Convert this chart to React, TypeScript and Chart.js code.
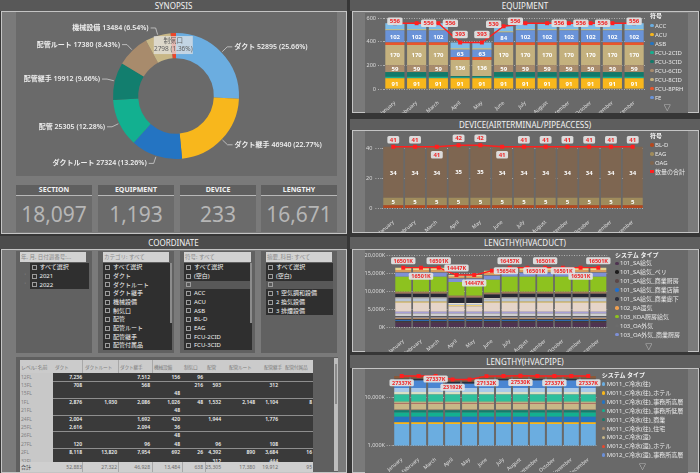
import React, { useEffect, useRef } from "react";
import { Chart, registerables } from "chart.js";

Chart.register(...registerables);

const FONT = '"Segoe UI", "Noto Sans", "Noto Sans CJK JP", sans-serif';
Chart.defaults.font.family = FONT;

// ================= DATA =================
const months = ["January","February","March","April","May","June","July","August","September","October","November","December"];

// SYNOPSIS
const synopsisCategories = ["ダクト","ダクト継手","ダクトルート","配管","配管継手","配管ルート","機械設備","制気口"];
const synopsisValues = [52895, 46940, 27324, 25305, 19912, 17380, 13484, 2798];
const synopsisPercents = ["25.66%","22.77%","13.26%","12.28%","9.66%","8.43%","6.54%","1.36%"];

// KPI cards
const kpiTitles = ["SECTION","EQUIPMENT","DEVICE","LENGTHY"];
const kpiValues = ["18,097","1,193","233","16,671"];

// EQUIPMENT
const equipNames = ["ACC","ACU","ASB","FCU-2CID","FCU-3CID","FCU-6CID","FCU-8CID","FCU-8PRH","FE","",""];
const equipACC = [0,0,0,0,0,0,0,0,0,0,0,0];
const equipACU = [91,91,91,91,91,91,91,91,91,91,91,91];
const equipASB = [0,0,0,0,0,0,0,0,0,0,0,0];
const equipFCU2CID = [12,12,12,8,8,12,12,12,12,12,12,12];
const equipFCU3CID = [40,40,40,10,10,40,40,40,40,40,40,40];
const equipFCU6CID = [59,59,59,0,0,59,59,59,59,59,59,59];
const equipFCU8CID = [170,170,170,136,136,170,170,170,170,170,170,170];
const equipFCU8PRH = [22,22,22,25,25,22,22,22,22,22,22,22];
const equipFE = [102,102,102,63,63,84,102,102,102,102,102,102];
const equipOtherA = [8,8,8,10,10,8,8,8,8,8,8,8];
const equipOtherB = [52,52,52,50,50,44,52,52,52,52,52,52];
const equipTotal = [556,556,556,393,393,530,556,556,556,556,556,556];

// DEVICE
const deviceNames = ["BL-D","EAG","OAG"];
const deviceBLD = [2,2,2,2,2,2,2,2,2,2,2,2];
const deviceEAG = [5,5,5,5,5,5,5,5,5,5,5,5];
const deviceOAG = [34,34,34,35,35,34,34,34,34,34,34,34];
const deviceTotal = [41,41,41,42,42,41,41,41,41,41,41,41];

// LENGTHY (HVACDUCT), values in K
const ductNames = ["101_SA給気","101_SA給気_ペリ","101_SA給気_商業厨房","101_SA給気_商業店舗","101_SA給気_商業廊下","102_RA還気","","","","","","","","","","","103_KOA厨房給気","103_OA外気_商業厨房","103_OA外気","",""];
const duct01 = [1350,1350,1350,1350,1350,1350,1350,1350,1350,1350,1350,1350];
const duct02 = [250,250,250,250,250,250,250,250,250,250,250,250];
const duct03 = [150,150,150,150,150,150,150,150,150,150,150,150];
const duct04 = [200,200,200,200,200,200,200,200,200,200,200,200];
const duct05 = [300,300,300,300,300,300,300,300,300,300,300,300];
const duct06 = [200,200,200,200,200,200,200,200,200,200,200,200];
const duct07 = [500,500,500,500,500,500,500,500,500,500,500,500];
const duct08 = [200,200,200,200,200,200,200,200,200,200,200,200];
const duct09 = [700,700,700,700,700,700,700,700,700,700,700,700];
const duct10 = [450,450,450,450,450,450,450,450,450,450,450,450];
const duct11 = [2500,2500,2500,1500,1500,2500,2500,2500,2500,2500,2500,2500];
const duct12 = [350,350,350,350,350,350,350,350,350,350,350,350];
const duct13 = [800,800,800,300,300,553,800,800,800,800,800,800];
const duct14 = [300,300,300,300,300,300,300,300,300,300,300,300];
const duct15 = [1050,1050,1050,1450,1450,1050,1050,1050,1050,1050,1050,1050];
const duct16 = [500,500,500,500,500,500,500,500,500,500,500,500];
const duct17 = [4200,4200,4200,3800,3800,3600,4200,4200,4200,4200,4200,4200];
const duct18 = [1100,1100,1100,900,900,1100,1100,1100,1100,1100,1100,1100];
const duct19 = [150,150,150,150,150,150,150,150,150,150,150,150];
const duct20 = [600,600,600,446,446,600,600,600,600,600,600,600];
const duct21 = [651,651,651,451,451,651,607,651,651,651,651,651];
const ductTotal = [16501,16501,16501,14447,14447,15654,16457,16501,16501,16501,16501,16501];

// LENGTHY (HVACPIPE), values in K
const pipeNames = ["M011_C冷水(往)","M011_C冷水(往)_ホテル","M011_C冷水(往)_事務所高層","M011_C冷水(往)_事務所低層","M011_C冷水(往)_商業","M011_C冷水(往)_住宅","M012_C冷水(還)","M012_C冷水(還)_ホテル","M012_C冷水(還)_事務所高層","","","","","","",""];
const pipe01 = [2800,2800,2800,2800,2800,2800,2800,2800,2800,2800,2800,2800];
const pipe02 = [250,250,250,250,250,250,250,250,250,250,250,250];
const pipe03 = [900,900,900,900,900,900,900,900,900,900,900,900];
const pipe04 = [900,900,900,900,900,900,900,900,900,900,900,900];
const pipe05 = [500,500,500,500,500,500,500,500,500,500,500,500];
const pipe06 = [200,200,200,200,200,200,200,200,200,200,200,200];
const pipe07 = [1800,1800,1800,1800,1800,1800,1800,1800,1800,1800,1800,1800];
const pipe08 = [150,150,150,150,150,150,150,150,150,150,150,150];
const pipe09 = [200,200,200,200,200,200,200,200,200,200,200,200];
const pipe10 = [300,300,300,300,300,300,300,300,300,300,300,300];
const pipe11 = [3300,3300,3300,3300,3300,3300,3300,3300,3300,3300,3300,3300];
const pipe12 = [1500,1500,1500,1500,1500,1500,1500,1500,1500,1500,1500,1500];
const pipe13 = [2600,2600,2600,2600,2600,2600,2600,2600,2600,2600,2600,2600];
const pipe14 = [6600,6600,6600,3455,3455,6600,6600,6600,6600,6600,6600,6600];
const pipe15 = [2000,2000,2000,2000,2000,2000,2000,2000,2000,2000,2000,2000];
const pipe16 = [3337,3337,3337,2337,2337,3132,3337,3530,3337,3337,3337,3337];
const pipeTotal = [27337,27337,27337,23192,23192,27132,27337,27530,27337,27337,27337,27337];

// COORDINATE slicers
const slicerHeaders = ["年, 月, 日付週番号:...","カテゴリ: すべて","符号: すべて","摘要_科目: すべて"];
const slicerYears = ["すべて選択","2021","2022"];
const slicerCategories = ["すべて選択","ダクト","ダクトルート","ダクト継手","機械設備","制気口","配管","配管ルート","配管継手","配管付属品"];
const slicerCodes = ["すべて選択","(空白)","","ACC","ACU","ASB","BL-D","EAG","FCU-2CID","FCU-3CID"];
const slicerSubjects = ["すべて選択","(空白)","","1 空気調和設備","2 換気設備","3 排煙設備"];

// COORDINATE matrix
const tableColumns = ["ダクト","ダクトルート","ダクト継手","機械設備","制気口","配管","配管ルート","配管継手","配管付属品"];
const tableRowLabels = ["12FL","13FL","15FL","1FL","21FL","24FL","25FL","26FL","27FL","2FL","32FL"];
const tableRows = [
  ["7,236","","7,512","156","96","","","",""],
  ["708","","568","","216","593","","312",""],
  ["","","","48","","","","",""],
  ["2,876","1,930","2,086","1,026","48","1,532","2,148","1,104","8"],
  ["","","","48","","","","",""],
  ["2,004","","1,692","420","","1,944","","1,776",""],
  ["2,616","","2,094","36","","","","",""],
  ["","","","48","","","","",""],
  ["120","","96","48","","96","","108",""],
  ["8,118","13,820","7,954","692","26","4,392","890","3,684","16"],
  ["","","","","","312","","444",""],
];
const tableTotals = ["52,883","27,322","46,928","13,484","638","25,305","17,380","19,912","95"];

// ================= STYLES =================
const synopsisColors = ["#6BADE0","#F8B71C","#2474C2","#12B090","#127E6E","#A88B6C","#C8B787","#E9472B"];
const equipColors = ["#6BADE0","#F8B71C","#2474C2","#16B08F","#127A6A","#A88B6C","#C4B17E","#E9552B","#6A93D8","#EEE08A","#7DBDE8"];
const equipLabelled = [false,true,false,false,false,true,true,false,true,false,false];
const deviceColors = ["#B4481E","#A08C5C","#7E6651"];
const deviceLabelled = [false,true,true];
const ductColors = ["#4E3350","#1C1C1C","#5C4848","#1F6FCF","#2C2F3B","#F0A050","#8A8A92","#3A3A44","#D0D0D0","#A79FD6","#E5D5C9","#EFCF72","#B9C5D6","#E9E1D2","#262833","#A0765A","#8DC21F","#7E90D6","#6B6B6B","#D89C5C","#E7D68E"];
const ductLegendOrder = [0,1,2,3,4,5,16,18,17];
const pipeColors = ["#6BADE0","#F8B71C","#2474C2","#12B090","#127E6E","#A88B6C","#C8B787","#E9472B","#6B8FD8","#F3D66E","#2EBF9C","#D9DFC4","#A9C9E8","#4A86D2","#27303F","#8A5A3A"];
const pipeLegendOrder = [0,1,2,3,4,5,6,7,8];
const RED = "#FF1F1F";
const GRID = "rgba(210,210,210,0.85)";

const equipLabelOffsets: ([number, number] | null)[] = [[0,-2],[12,0],[12,0],[0,-8],[0,-8],[-10,-2],[-10,-2],[12,0],[12,0],[12,0],null,[0,-2]];
const deviceLabelOffsets: ([number, number] | null)[] = [[0,-7],[0,-7],[0,8],[0,-7],[0,-7],[0,8],[0,-7],[0,-7],[0,-7],[0,-7],[0,-7],[0,-7]];
const ductLabelOffsets: ([number, number] | null)[] = [[0,-7],[0,8.5],[0,-7],[0,-7],[0,8],[14,0],[0,-7],[8,3],[0,-7],[0,3],[0,8.5],[0,-7]];
const pipeLabelOffsets: ([number, number] | null)[] = [[0,6.8],null,[0,3],[0,7.8],null,[0,6.7],null,[0,6.7],null,[0,6.7],null,[0,6.7]];

// ================= PLUGINS =================
const segLabelPlugin = {
  id: "segLabels",
  afterDatasetsDraw(chart: any) {
    const ctx = chart.ctx;
    ctx.save();
    ctx.font = `bold 6px ${FONT}`;
    ctx.fillStyle = "#ffffff";
    ctx.textAlign = "center";
    ctx.textBaseline = "middle";
    chart.data.datasets.forEach((ds: any, i: number) => {
      if (!ds.showLabel) return;
      const meta = chart.getDatasetMeta(i);
      meta.data.forEach((el: any, j: number) => {
        const v = ds.data[j];
        if (!v) return;
        ctx.fillText(String(v), el.x, (el.y + el.base) / 2 + 0.5);
      });
    });
    ctx.restore();
  },
};

function makeTotalLabelPlugin(offsets: ([number, number] | null)[], fmt: (v: number) => string, size: number) {
  return {
    id: "totalLabels",
    afterDatasetsDraw(chart: any) {
      const ctx = chart.ctx;
      const idx = chart.data.datasets.findIndex((d: any) => d.type === "line");
      if (idx < 0) return;
      const ds = chart.data.datasets[idx];
      const meta = chart.getDatasetMeta(idx);
      ctx.save();
      ctx.font = `bold ${size}px ${FONT}`;
      ctx.textAlign = "center";
      ctx.textBaseline = "middle";
      meta.data.forEach((pt: any, j: number) => {
        const off = offsets[j];
        if (!off) return;
        const text = fmt(ds.data[j]);
        const w = ctx.measureText(text).width + 5;
        const h = size + 1.5;
        const cx = pt.x + off[0];
        const cy = pt.y + off[1];
        ctx.fillStyle = "rgba(224,224,224,0.96)";
        ctx.beginPath();
        ctx.roundRect(cx - w / 2, cy - h / 2, w, h, 1.5);
        ctx.fill();
        ctx.fillStyle = "#F02828";
        ctx.fillText(text, cx, cy + 0.3);
      });
      ctx.restore();
    },
  };
}

const donutLabelPlugin = {
  id: "donutLabels",
  afterDatasetsDraw(chart: any) {
    const ctx = chart.ctx;
    const meta = chart.getDatasetMeta(0);
    ctx.save();
    meta.data.forEach((arc: any, i: number) => {
      const { x, y, startAngle, endAngle, outerRadius } = arc.getProps(["x", "y", "startAngle", "endAngle", "outerRadius"], true);
      const mid = (startAngle + endAngle) / 2;
      const cos = Math.cos(mid);
      const sin = Math.sin(mid);
      if (i === synopsisValues.length - 1) {
        // hover tooltip on the smallest slice
        const bx = x + cos * outerRadius;
        const by = y + sin * outerRadius + 3;
        const w = 39, h = 18;
        ctx.fillStyle = "rgba(228,228,228,0.72)";
        ctx.fillRect(bx - w / 2, by, w, h);
        ctx.fillStyle = "#5e5e5e";
        ctx.font = `6.5px ${FONT}`;
        ctx.textAlign = "center";
        ctx.textBaseline = "middle";
        ctx.fillText(synopsisCategories[i], bx, by + 5.3);
        ctx.fillText(`${synopsisValues[i]} (${synopsisPercents[i]})`, bx, by + 13.3);
        return;
      }
      const x1 = x + cos * (outerRadius + 1);
      const y1 = y + sin * (outerRadius + 1);
      const x2 = x + cos * (outerRadius + 8);
      const y2 = y + sin * (outerRadius + 8);
      const right = cos >= 0;
      const x3 = x2 + (right ? 5 : -5);
      ctx.strokeStyle = "#cfcfcf";
      ctx.lineWidth = 0.8;
      ctx.beginPath();
      ctx.moveTo(x1, y1);
      ctx.lineTo(x2, y2);
      ctx.lineTo(x3, y2);
      ctx.stroke();
      ctx.fillStyle = "#EDEDED";
      ctx.font = `600 7px ${FONT}`;
      ctx.textAlign = right ? "left" : "right";
      ctx.textBaseline = "middle";
      ctx.fillText(`${synopsisCategories[i]} ${synopsisValues[i]} (${synopsisPercents[i]})`, x3 + (right ? 2 : -2), y2);
    });
    ctx.restore();
  },
};

// ================= CONFIGS =================
function makeDonut() {
  return {
    type: "doughnut",
    data: {
      labels: synopsisCategories,
      datasets: [{ data: synopsisValues, backgroundColor: synopsisColors, borderWidth: 0 }],
    },
    options: {
      responsive: false,
      animation: false,
      devicePixelRatio: 1,
      cutout: "60%",
      layout: { padding: { left: 97, right: 98, top: 21, bottom: 17 } },
      plugins: { legend: { display: false }, tooltip: { enabled: false } },
    },
    plugins: [donutLabelPlugin],
  };
}

type BarParams = {
  names: string[];
  series: number[][];
  colors: string[];
  labelled?: boolean[];
  totals: number[];
  yType: "linear" | "logarithmic";
  yMin: number;
  yMax: number;
  yTicks: number[];
  fmtTick: (v: number) => string;
  yWidth: number;
  tickLen: number;
  tickPad: number;
  xHeight: number;
  padTop: number;
  padRight: number;
  barPct: number;
  offsets: ([number, number] | null)[];
  fmtTotal: (v: number) => string;
  boxFont: number;
};

function makeBarConfig(p: BarParams) {
  return {
    type: "bar",
    data: {
      labels: months,
      datasets: [
        {
          type: "line",
          label: "total",
          data: p.totals,
          borderColor: RED,
          borderWidth: 1.4,
          pointStyle: "rect",
          pointRadius: 2.8,
          pointBackgroundColor: RED,
          pointBorderWidth: 0,
          stack: "total",
          order: 0,
          tension: 0,
        },
        ...p.series.map((d, i) => ({
          type: "bar",
          label: p.names[i],
          data: d,
          backgroundColor: p.colors[i],
          borderWidth: 0,
          barPercentage: p.barPct,
          categoryPercentage: 1,
          stack: "bars",
          order: 1,
          showLabel: p.labelled ? p.labelled[i] : false,
        })),
      ],
    },
    options: {
      responsive: false,
      animation: false,
      devicePixelRatio: 1,
      layout: { padding: { top: p.padTop, right: p.padRight, left: 0, bottom: 0 } },
      plugins: { legend: { display: false }, tooltip: { enabled: false } },
      scales: {
        x: {
          stacked: true,
          grid: { display: false },
          border: { display: false },
          ticks: { color: "#E2E2E2", font: { size: 5 }, maxRotation: 40, minRotation: 40, autoSkip: false, padding: 3 },
          afterFit: (s: any) => {
            s.height = p.xHeight;
            s.paddingLeft = 0;
            s.paddingRight = 0;
          },
        },
        y: {
          type: p.yType,
          stacked: true,
          min: p.yMin,
          max: p.yMax,
          afterBuildTicks: (axis: any) => {
            axis.ticks = p.yTicks.map((v) => ({ value: v }));
          },
          ticks: { color: "#DCDCDC", font: { size: 5.5 }, padding: p.tickPad, callback: (v: any) => p.fmtTick(Number(v)) },
          grid: { color: GRID, lineWidth: 0.8, tickLength: p.tickLen, tickColor: GRID, tickWidth: 0.8, tickBorderDash: [1, 1.5] },
          border: { display: false, dash: [1, 1.5] },
          afterFit: (s: any) => {
            s.width = p.yWidth;
            s.paddingTop = 0;
            s.paddingBottom = 0;
          },
        },
      },
    },
    plugins: [segLabelPlugin, makeTotalLabelPlugin(p.offsets, p.fmtTotal, p.boxFont)],
  };
}

const fmtThousands = (v: number) => v.toLocaleString("en-US");
const fmtK = (v: number) => `${v.toLocaleString("en-US")}K`;

const makeEquip = () =>
  makeBarConfig({
    names: equipNames,
    series: [equipACC, equipACU, equipASB, equipFCU2CID, equipFCU3CID, equipFCU6CID, equipFCU8CID, equipFCU8PRH, equipFE, equipOtherA, equipOtherB],
    colors: equipColors,
    labelled: equipLabelled,
    totals: equipTotal,
    yType: "linear",
    yMin: 0,
    yMax: 600,
    yTicks: [0, 200, 400, 600],
    fmtTick: fmtThousands,
    yWidth: 19,
    tickLen: 6,
    tickPad: 2,
    xHeight: 24,
    padTop: 5,
    padRight: 43,
    barPct: 0.88,
    offsets: equipLabelOffsets,
    fmtTotal: (v) => String(v),
    boxFont: 6,
  });

const makeDevice = () =>
  makeBarConfig({
    names: deviceNames,
    series: [deviceBLD, deviceEAG, deviceOAG],
    colors: deviceColors,
    labelled: deviceLabelled,
    totals: deviceTotal,
    yType: "linear",
    yMin: 0,
    yMax: 48,
    yTicks: [0, 20, 40],
    fmtTick: fmtThousands,
    yWidth: 17.4,
    tickLen: 7,
    tickPad: 3,
    xHeight: 23.7,
    padTop: 5.3,
    padRight: 41.4,
    barPct: 0.92,
    offsets: deviceLabelOffsets,
    fmtTotal: (v) => String(v),
    boxFont: 6,
  });

const makeDuct = () =>
  makeBarConfig({
    names: ductNames,
    series: [duct01, duct02, duct03, duct04, duct05, duct06, duct07, duct08, duct09, duct10, duct11, duct12, duct13, duct14, duct15, duct16, duct17, duct18, duct19, duct20, duct21],
    colors: ductColors,
    totals: ductTotal,
    yType: "linear",
    yMin: 0,
    yMax: 20000,
    yTicks: [0, 5000, 10000, 15000, 20000],
    fmtTick: fmtK,
    yWidth: 29.4,
    tickLen: 7.7,
    tickPad: 1.5,
    xHeight: 24.7,
    padTop: 5,
    padRight: 80.8,
    barPct: 0.9,
    offsets: ductLabelOffsets,
    fmtTotal: (v) => `${v}K`,
    boxFont: 5.5,
  });

const makePipe = () =>
  makeBarConfig({
    names: pipeNames,
    series: [pipe01, pipe02, pipe03, pipe04, pipe05, pipe06, pipe07, pipe08, pipe09, pipe10, pipe11, pipe12, pipe13, pipe14, pipe15, pipe16],
    colors: pipeColors,
    totals: pipeTotal,
    yType: "logarithmic",
    yMin: 1000,
    yMax: 33000,
    yTicks: [1000, 10000],
    fmtTick: fmtK,
    yWidth: 28.2,
    tickLen: 6.5,
    tickPad: 1.7,
    xHeight: 26.3,
    padTop: 2.2,
    padRight: 91.2,
    barPct: 0.88,
    offsets: pipeLabelOffsets,
    fmtTotal: (v) => `${v}K`,
    boxFont: 5.5,
  });

// ================= COMPONENTS =================
const abs = (l: number, t: number, w: number, h: number, extra: React.CSSProperties = {}): React.CSSProperties => ({
  position: "absolute",
  left: l,
  top: t,
  width: w,
  height: h,
  boxSizing: "border-box",
  ...extra,
});

function ChartCanvas({ make, left, top, width, height }: { make: () => any; left: number; top: number; width: number; height: number }) {
  const ref = useRef<HTMLCanvasElement>(null);
  useEffect(() => {
    const chart = new Chart(ref.current as HTMLCanvasElement, make());
    return () => chart.destroy();
  }, []);
  return <canvas ref={ref} width={width} height={height} style={{ position: "absolute", left, top, width, height }} />;
}

function TitleBar({ l, t, w, h, text, bg }: { l: number; t: number; w: number; h: number; text: string; bg: string }) {
  return (
    <div style={abs(l, t, w, h, { background: bg, color: "#F2F2F2", fontSize: 8, lineHeight: `${h}px`, textAlign: "center", whiteSpace: "nowrap" })}>
      {text}
    </div>
  );
}

function Panel({ l, t, w, h }: { l: number; t: number; w: number; h: number }) {
  return <div style={abs(l, t, w, h, { background: "#7A7A7A", border: "1px solid #C4C4C4" })} />;
}

function Legend({ x, titleY, firstY, step, title, items }: { x: number; titleY: number; firstY: number; step: number; title: string; items: { name: string; color: string; square?: boolean }[] }) {
  return (
    <>
      <div style={{ position: "absolute", left: x, top: titleY - 4, fontSize: 6, lineHeight: "8px", color: "#F4F4F4", fontWeight: 700, whiteSpace: "nowrap" }}>{title}</div>
      {items.map((it, i) => (
        <React.Fragment key={i}>
          <div style={{ position: "absolute", left: x, top: firstY + step * i - 1.75, width: 3.5, height: 3.5, borderRadius: it.square ? 0 : "50%", background: it.color }} />
          <div style={{ position: "absolute", left: x + 5, top: firstY + step * i - 4, fontSize: 6, lineHeight: "8px", color: "#E8E8E8", whiteSpace: "nowrap" }}>{it.name}</div>
        </React.Fragment>
      ))}
    </>
  );
}

function DownArrow({ x, y }: { x: number; y: number }) {
  return <div style={{ position: "absolute", left: x - 4, top: y - 5, fontSize: 7, lineHeight: "10px", color: "#E6E6E6" }}>▽</div>;
}

function Slicer({ x, w, header, hx, hw, items, ix, iw, blank, chevrons, scroll }: { x: number; w: number; header: string; hx: number; hw: number; items: string[]; ix: number; iw: number; blank?: number; chevrons?: boolean; scroll?: boolean }) {
  const rowTop = 263.3;
  const rowH = 8.67;
  return (
    <>
      <div style={abs(x, 251, w, 102, { background: "#616161" })} />
      <div style={abs(hx, 252, hw, 10, { background: "#D2D2D2", color: "#8A8A8A", fontSize: 5.5, lineHeight: "10px", paddingLeft: 1, whiteSpace: "nowrap", overflow: "hidden" })}>{header}</div>
      {items.map((it, i) => {
        const top = rowTop + rowH * i;
        if (top > 352) return null;
        const h = Math.min(rowH, 353 - top);
        const isBlank = i === blank;
        return (
          <React.Fragment key={i}>
            <div style={abs(ix, top, iw, h, { background: isBlank ? "#585858" : "#2F2F2F", overflow: "hidden" })}>
              <div style={abs(2, 1.7, 5, 5, { border: "0.8px solid #9C9C9C" })} />
              <div style={{ position: "absolute", left: 10, top: 0, fontSize: 6, lineHeight: "8.6px", color: "#F2F2F2", whiteSpace: "nowrap" }}>{it}</div>
            </div>
            {chevrons && i > 0 ? <div style={{ position: "absolute", left: ix - 5, top: top, fontSize: 5, lineHeight: "8px", color: "#9A9A9A" }}>˅</div> : null}
          </React.Fragment>
        );
      })}
      {scroll ? <div style={abs(ix + iw - 2, 263, 2, 60, { background: "#8C8C8C" })} /> : null}
    </>
  );
}

function DataTable() {
  const colLeft = [53, 83, 118, 152, 182, 205, 227, 262, 283];
  const colRight = [82, 117, 150, 180, 203, 221, 255, 278, 312];
  const rowTop = 372.7;
  const rowH = 8.4;
  const sepRows = [1, 3, 5, 7, 9];
  return (
    <>
      <div style={abs(16, 357, 322, 115, { background: "#5F5F5F" })} />
      <div style={abs(20, 360, 293, 12.7, { background: "#CBCBCB" })} />
      <div style={{ position: "absolute", left: 21, top: 362.5, fontSize: 5, lineHeight: "8px", color: "#7C7C7C", whiteSpace: "nowrap", letterSpacing: -0.2 }}>レベル: 名前</div>
      {tableColumns.map((c, i) => (
        <div key={c} style={{ position: "absolute", left: colLeft[i] + 2, top: 362.5, fontSize: 4.7, lineHeight: "8px", color: "#7C7C7C", whiteSpace: "nowrap", letterSpacing: -0.2 }}>{c}</div>
      ))}
      {[82.3, 118.3, 151.7].map((lx) => (
        <div key={lx} style={abs(lx, 360, 0.8, 12.7, { background: "#A8A8A8" })} />
      ))}
      <div style={abs(20, rowTop, 33, 462 - rowTop, { background: "#C8C8C8" })} />
      <div style={abs(53, rowTop, 260, 462 - rowTop, { background: "#3A3A3A" })} />
      <div style={abs(20, rowTop, 293, 462 - rowTop, { overflow: "hidden" })}>
        {tableRowLabels.map((r, i) => (
          <React.Fragment key={r}>
            <div style={{ position: "absolute", left: 1, top: rowH * i, fontSize: 5, lineHeight: `${rowH}px`, color: "#808080" }}>{r}</div>
            {tableRows[i].map((v, j) =>
              v ? (
                <div key={j} style={{ position: "absolute", left: colRight[j] - 20 - 40, width: 40, top: rowH * i, fontSize: 5, fontWeight: 600, lineHeight: `${rowH}px`, color: "#F0F0F0", textAlign: "right" }}>{v}</div>
              ) : null
            )}
          </React.Fragment>
        ))}
        {sepRows.map((k) => (
          <div key={k} style={abs(33, rowH * k, 260, 0.8, { background: "#8E8E8E" })} />
        ))}
      </div>
      <div style={abs(20, 462, 293, 9.5, { background: "#CFCFCF" })} />
      <div style={{ position: "absolute", left: 21, top: 462.5, fontSize: 5, lineHeight: "8.5px", color: "#333333" }}>合計</div>
      {tableTotals.map((v, j) => (
        <div key={j} style={{ position: "absolute", left: colRight[j] - 40, width: 40, top: 462.5, fontSize: 5, lineHeight: "8.5px", color: "#6A6A6A", textAlign: "right" }}>{v}</div>
      ))}
      {[82.3, 118.3, 151.7, 181.7, 205].map((lx) => (
        <div key={lx} style={abs(lx, 462, 0.8, 9.5, { background: "#A8A8A8" })} />
      ))}
      <div style={abs(334, 358, 3.5, 113, { background: "#BDBDBD" })} />
      <div style={abs(334.5, 364, 2.5, 40, { background: "#8A8A8A" })} />
    </>
  );
}

export default function App() {
  const cardX = [16, 98, 180, 261];
  const equipLegend = equipNames.slice(0, 9).map((n, i) => ({ name: n, color: equipColors[i] }));
  const deviceLegend = [
    ...deviceNames.map((n, i) => ({ name: n, color: deviceColors[i] })),
    { name: "数量の合計", color: RED, square: true },
  ];
  const ductLegend = ductLegendOrder.map((i) => ({ name: ductNames[i], color: ductColors[i] }));
  const pipeLegend = pipeLegendOrder.map((i) => ({ name: pipeNames[i], color: pipeColors[i] }));

  return (
    <div style={{ position: "fixed", left: 0, top: 0, width: 700, height: 473, background: "#363636", overflow: "hidden", fontFamily: FONT }}>
      {/* ===== LEFT: SYNOPSIS ===== */}
      <TitleBar l={0} t={0} w={347} h={11} text="SYNOPSIS" bg="#585858" />
      <Panel l={1} t={11} w={346} h={223} />
      <div style={abs(16, 12, 321, 164, { background: "#6A6A6A" })} />
      <ChartCanvas make={makeDonut} left={16} top={12} width={321} height={164} />
      {kpiTitles.map((t, i) => (
        <React.Fragment key={t}>
          <div style={abs(cardX[i], 185, 76, 11, { background: "#5F5F5F", color: "#F2F2F2", fontSize: 7, fontWeight: 700, textAlign: "center", lineHeight: "10px", borderBottom: "1px solid #B8B8B8" })}>{t}</div>
          <div style={abs(cardX[i], 196, 76, 36, { background: "#6B6B6B", color: "#B6B6B6", fontSize: 21, textAlign: "center", lineHeight: "36px" })}>{kpiValues[i]}</div>
        </React.Fragment>
      ))}

      {/* ===== LEFT: COORDINATE ===== */}
      <TitleBar l={0} t={236} w={347} h={13} text="COORDINATE" bg="#4C4C4C" />
      <Panel l={1} t={249} w={346} h={224} />
      <Slicer x={16} w={76} header={slicerHeaders[0]} hx={20} hw={66} items={slicerYears} ix={29.5} iw={59.5} chevrons />
      <Slicer x={98} w={76} header={slicerHeaders[1]} hx={103} hw={66} items={slicerCategories} ix={103} iw={69} scroll />
      <Slicer x={180} w={75} header={slicerHeaders[2]} hx={184} hw={67} items={slicerCodes} ix={184} iw={68} blank={2} scroll />
      <Slicer x={261} w={76} header={slicerHeaders[3]} hx={266} hw={66} items={slicerSubjects} ix={266} iw={67} blank={2} />
      <DataTable />

      {/* ===== RIGHT: EQUIPMENT ===== */}
      <TitleBar l={350} t={0} w={350} h={11} text="EQUIPMENT" bg="#5A5A5A" />
      <Panel l={352} t={11} w={347} h={102} />
      <div style={abs(365, 13, 323, 100, { background: "#696969" })} />
      <ChartCanvas make={makeEquip} left={365} top={13} width={323} height={100} />
      <Legend x={650} titleY={15.7} firstY={25.7} step={9} title="符号" items={equipLegend} />
      <DownArrow x={667.7} y={108.3} />

      {/* ===== RIGHT: DEVICE ===== */}
      <TitleBar l={350} t={119} w={350} h={11} text="DEVICE(AIRTERMINAL/PIPEACCESS)" bg="#5E5E5E" />
      <Panel l={352} t={130} w={347} h={103} />
      <div style={abs(365, 131, 323, 101, { background: "#696969" })} />
      <ChartCanvas make={makeDevice} left={365} top={131} width={320} height={101} />
      <Legend x={650} titleY={136} firstY={145} step={8.9} title="符号" items={deviceLegend} />

      {/* ===== RIGHT: HVACDUCT ===== */}
      <TitleBar l={350} t={237} w={350} h={12} text="LENGTHY(HVACDUCT)" bg="#5F5F5F" />
      <Panel l={352} t={249} w={347} h={103} />
      <div style={abs(365, 250, 323, 102, { background: "#696969" })} />
      <ChartCanvas make={makeDuct} left={365} top={250} width={323} height={102} />
      <Legend x={615} titleY={255} firstY={263.3} step={8.9} title="システム タイプ" items={ductLegend} />
      <DownArrow x={649.3} y={347.3} />

      {/* ===== RIGHT: HVACPIPE ===== */}
      <TitleBar l={350} t={355} w={350} h={13} text="LENGTHY(HVACPIPE)" bg="#606060" />
      <Panel l={352} t={368} w={347} h={105} />
      <div style={abs(365, 369, 323, 104, { background: "#696969" })} />
      <ChartCanvas make={makePipe} left={365} top={368} width={323} height={104} />
      <Legend x={601.7} titleY={375} firstY={384} step={8.9} title="システム タイプ" items={pipeLegend} />
      <DownArrow x={643} y={466.7} />
    </div>
  );
}
